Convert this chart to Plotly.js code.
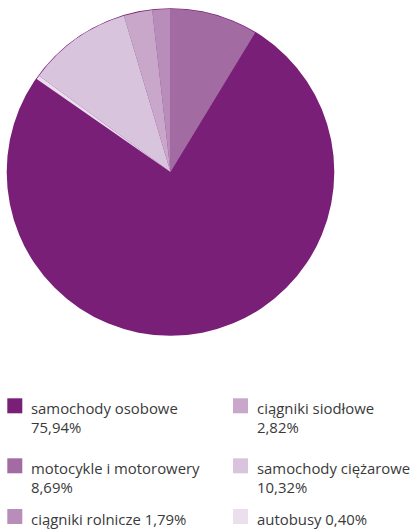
<!DOCTYPE html>
<html>
<head>
<meta charset="utf-8">
<script src="https://cdn.plot.ly/plotly-3.0.1.min.js"></script>
<style>
  html, body { margin: 0; padding: 0; background: #ffffff; }
  #chart { width: 413px; height: 529px; }
</style>
</head>
<body>
<div id="chart"></div>
<script>
// Data (legend order, column by column)
const categories = [
  'samochody osobowe',
  'motocykle i motorowery',
  'ciągniki rolnicze',
  'ciągniki siodłowe',
  'samochody ciężarowe',
  'autobusy'
];
const shares = [75.94, 8.69, 1.79, 2.82, 10.32, 0.40];
const colors = ['#7a1f78', '#a26ca3', '#b88dba', '#c9a7cb', '#d9c4de', '#ebdeed'];
const wrapLabel = [true, true, false, true, true, false];

const W = 413, H = 529;
const px = x => x / W;
const py = y => 1 - y / H;

// pie geometry (pixels)
const cx = 170.5, cy = 172, r = 163;

const total = shares.reduce((a, b) => a + b, 0);
const rotation = shares[1] / total * 360;

const fmt = v => v.toFixed(2).replace('.', ',') + '%';

const trace = {
  type: 'pie',
  labels: categories,
  values: shares,
  sort: false,
  direction: 'counterclockwise',
  rotation: rotation,
  marker: { colors: colors, line: { width: 0 } },
  textinfo: 'none',
  hoverinfo: 'label+percent',
  showlegend: false,
  domain: { x: [px(cx - r), px(cx + r)], y: [py(cy + r), py(cy - r)] }
};

// legend drawn from the arrays: 2 columns, filled column by column
const colX = [7.3, 233];
const rowTop = [398.3, 458.3, 509];
const box = 15;
const font = { family: '"Open Sans", sans-serif', size: 14.9, color: '#3a3a3a' };
const shapes = [{
  type: 'circle', xref: 'paper', yref: 'paper', layer: 'below',
  x0: px(cx - r - 0.8), x1: px(cx + r + 0.8),
  y0: py(cy + r + 0.8), y1: py(cy - r - 0.8),
  fillcolor: '#7a1f78', line: { width: 0 }
}];
const annotations = [];
categories.forEach((name, i) => {
  const col = Math.floor(i / 3), row = i % 3;
  const x = colX[col], y = rowTop[row];
  shapes.push({
    type: 'rect', xref: 'paper', yref: 'paper',
    x0: px(x), x1: px(x + box), y0: py(y + box), y1: py(y),
    fillcolor: colors[i], line: { width: 0 }
  });
  annotations.push({
    xref: 'paper', yref: 'paper',
    x: px(x + 22.5), y: py(y - 1.5),
    xanchor: 'left', yanchor: 'top', align: 'left',
    showarrow: false, borderpad: 0,
    text: name + (wrapLabel[i] ? '<br>' : ' ') + fmt(shares[i]),
    font: font
  });
});

const layout = {
  width: W, height: H,
  margin: { l: 0, r: 0, t: 0, b: 0 },
  paper_bgcolor: '#ffffff',
  showlegend: false,
  shapes: shapes,
  annotations: annotations
};

Plotly.newPlot('chart', [trace], layout, { displayModeBar: false, staticPlot: true });
</script>
</body>
</html>
